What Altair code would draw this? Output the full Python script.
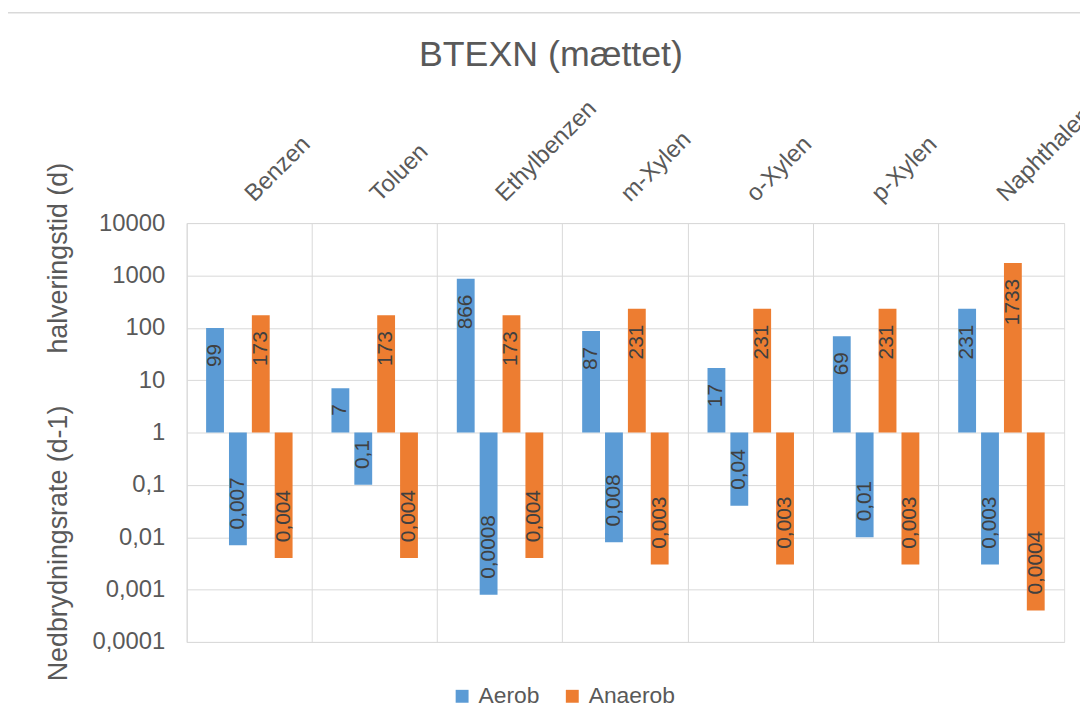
import altair as alt
import pandas as pd

categories = ["Benzen", "Toluen", "Ethylbenzen", "m-Xylen", "o-Xylen", "p-Xylen", "Naphthalen"]
aerob_halveringstid = [99, 7, 866, 87, 17, 69, 231]
aerob_rate = [0.007, 0.1, 0.0008, 0.008, 0.04, 0.01, 0.003]
anaerob_halveringstid = [173, 173, 173, 231, 231, 231, 1733]
anaerob_rate = [0.004, 0.004, 0.004, 0.003, 0.003, 0.003, 0.0004]
series = ["Aerob halveringstid", "Aerob rate", "Anaerob halveringstid", "Anaerob rate"]
series_type = ["Aerob", "Aerob", "Anaerob", "Anaerob"]
series_dir = ["op", "ned", "op", "ned"]
legend_labels = ["Aerob", "Anaerob"]
y_ticks = [0.0001, 0.001, 0.01, 0.1, 1, 10, 100, 1000, 10000]

rows = []
all_vals = [aerob_halveringstid, aerob_rate, anaerob_halveringstid, anaerob_rate]
for i, c in enumerate(categories):
    for s, g, d, vals in zip(series, series_type, series_dir, all_vals):
        v = vals[i]
        rows.append({"kategori": c, "serie": s, "type": g, "retning": d,
                     "vaerdi": v, "label": str(v).replace(".", ",")})
df = pd.DataFrame(rows)

FONT = "Liberation Sans"
GRID = "#D9D9D9"
TXT = "#595959"

x_enc = alt.X("kategori:N", sort=categories,
              scale=alt.Scale(paddingInner=0, paddingOuter=0),
              axis=alt.Axis(orient="top", title=None, labelAngle=315, labelAlign="left",
                            labelBaseline="middle", labelPadding=26, labelOffset=0,
                            bandPosition=0, grid=True, gridColor=GRID, gridWidth=1,
                            ticks=False, domain=False, labelFontSize=24, labelColor=TXT,
                            labelFont=FONT, labelOverlap=False, labelLimit=400))
xoff_enc = alt.XOffset("serie:N", sort=series,
                       scale=alt.Scale(paddingInner=0.22, paddingOuter=0.85))
y_title = "Nedbrydningsrate (d-1)" + "\u00a0" * 7 + "halveringstid (d)"
y_enc = alt.Y("vaerdi:Q",
              scale=alt.Scale(type="log", domain=[0.0001, 10000]),
              axis=alt.Axis(values=y_ticks,
                            labelExpr="datum.value >= 1 ? format(datum.value, 'd') : replace(format(datum.value, '~f'), '.', ',')",
                            grid=True, gridColor=GRID, gridWidth=1, ticks=False, domain=False,
                            labelFontSize=24, labelColor=TXT, labelFont=FONT, labelPadding=22,
                            title=y_title, titleFontSize=27, titleFont=FONT, titleFontWeight="normal",
                            titleColor=TXT, titleX=-129, titleY=200, titleAngle=270,
                            titleAlign="center", titleBaseline="middle"))

base = alt.Chart(df)

bars = base.mark_bar().encode(
    x=x_enc, xOffset=xoff_enc, y=y_enc, y2=alt.datum(1),
    color=alt.Color("type:N", scale=alt.Scale(domain=legend_labels, range=["#5B9BD5", "#ED7D31"]),
                    legend=alt.Legend(orient="none", legendX=266, legendY=465, direction="horizontal",
                                      title=None, symbolType="square", symbolSize=169,
                                      symbolStrokeWidth=0, labelFontSize=23, labelColor=TXT,
                                      labelFont=FONT, columnPadding=21, labelOffset=5)),
)

labels_up = base.transform_filter(alt.datum.retning == "op").mark_text(
    angle=270, align="right", baseline="middle", dx=-16, fontSize=21, font=FONT, color="#404040"
).encode(x=x_enc, xOffset=xoff_enc, y=y_enc, text="label:N")

labels_down = base.transform_filter(alt.datum.retning == "ned").mark_text(
    angle=270, align="left", baseline="middle", dx=16, fontSize=21, font=FONT, color="#404040"
).encode(x=x_enc, xOffset=xoff_enc, y=y_enc, text="label:N")

frame = alt.Chart(pd.DataFrame({"f": [0]})).mark_rect(
    fill=None, stroke=GRID, strokeWidth=1.5
).encode(x=alt.value(-181), x2=alt.value(1100), y=alt.value(-212), y2=alt.value(620))

chart = alt.layer(frame, bars, labels_up, labels_down).properties(
    width=884, height=422,
    padding={"left": 180, "top": 214, "right": 16, "bottom": 80},
    autosize="none",
    title=alt.TitleParams("BTEXN (mættet)", fontSize=36, font=FONT, color=TXT,
                          fontWeight="normal", anchor="middle", dx=-75, offset=0,
                          baseline="alphabetic", dy=91),
).configure_view(stroke=GRID, strokeWidth=1).configure(font=FONT, background="white")

chart.save("out.html", embed_options={"renderer": "svg", "actions": False})
